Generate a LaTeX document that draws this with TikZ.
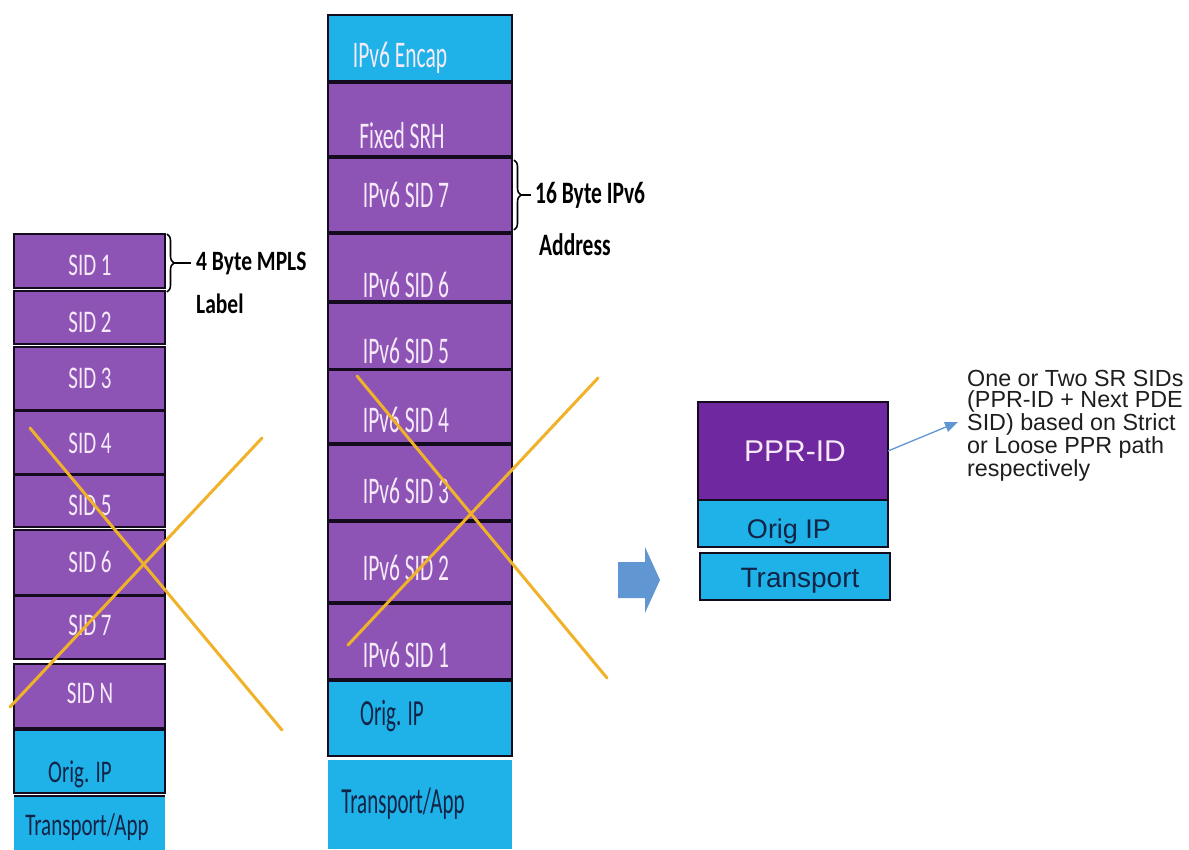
\documentclass[tikz,border=0pt]{standalone}
\usepackage{fontspec}
\setmainfont{Carlito}
\newfontfamily\arialf{Liberation Sans}
\usepackage{graphicx}
\usetikzlibrary{decorations.pathreplacing,arrows.meta}

\definecolor{stackpurple}{RGB}{141,84,182}
\definecolor{pprpurple}{RGB}{112,40,160}
\definecolor{cyanblue}{RGB}{30,178,232}
\definecolor{edgec}{RGB}{20,12,30}
\definecolor{lav}{RGB}{246,234,248}
\definecolor{navy}{RGB}{18,36,70}
\definecolor{xorange}{RGB}{240,178,40}
\definecolor{arrowblue}{RGB}{96,150,210}
\definecolor{notec}{RGB}{30,30,30}

\newcommand{\lstk}[1]{\scalebox{1}[1.5]{#1}}
\newcommand{\mstk}[1]{\scalebox{1}[1.75]{#1}}
\newcommand{\brtx}[1]{\scalebox{1}[1.3]{#1}}
\newcommand{\stackbox}[6]{\node[#1, minimum width={#5-#3}, minimum height={#6-#4}] (#2) at ({(#3+#5)/2},{(#4+#6)/2}) {};}

\begin{document}
\begin{tikzpicture}[x=1pt,y=-1pt,
  pbox/.style={draw=edgec, line width=2.2pt, fill=stackpurple, inner sep=0pt, outer sep=0pt},
  bbox/.style={draw=edgec, line width=2.2pt, fill=cyanblue, inner sep=0pt, outer sep=0pt},
  nbox/.style={draw=none, fill=cyanblue, inner sep=0pt, outer sep=0pt},
  ppbox/.style={draw=edgec, line width=2pt, fill=pprpurple, inner sep=0pt, outer sep=0pt},
  ltxt/.style={anchor=base, inner sep=0pt, text=lav, font=\fontsize{21}{24}\selectfont},
  lbtxt/.style={anchor=base, inner sep=0pt, text=navy, font=\fontsize{21}{24}\selectfont},
  mtxt/.style={anchor=base, inner sep=0pt, text=lav, font=\fontsize{21.5}{24}\selectfont},
  mbtxt/.style={anchor=base, inner sep=0pt, text=navy, font=\fontsize{21}{24}\selectfont},
  brlab/.style={anchor=base west, inner sep=0pt, text=black, font=\bfseries\fontsize{21.5}{24}\selectfont},
  brc/.style={decorate, decoration={brace, amplitude=7pt}, line width=1.6pt, black},
  xline/.style={xorange, line width=3pt, line cap=round},
  rtxt/.style={anchor=base, inner sep=0pt, font=\arialf\fontsize{28}{32}\selectfont}
]
\useasboundingbox (0,0) rectangle (1189,849);
\fill[white] (0,0) rectangle (1189,849);

% ---------- left stack ----------
\stackbox{pbox}{l1}{14}{234}{165}{288}
\stackbox{pbox}{l2}{14}{291}{165}{344}
\stackbox{pbox}{l3}{14}{347}{165}{410}
\stackbox{pbox}{l4}{14}{411}{165}{474}
\stackbox{pbox}{l5}{14}{475}{165}{527}
\stackbox{pbox}{l6}{14}{530}{165}{595}
\stackbox{pbox}{l7}{14}{596}{165}{659}
\stackbox{pbox}{lN}{14}{664}{165}{728}
\stackbox{bbox}{lo}{14}{730}{165}{793}
\stackbox{nbox}{lt}{14}{796}{165}{852}
\draw[edgec, line width=2.2pt] (lt.north west) -- (lt.north east);

\node[ltxt] (t1) at (90,275) {\lstk{SID 1}};
\node[ltxt] (t2) at (90,332) {\lstk{SID 2}};
\node[ltxt] (t3) at (90,388) {\lstk{SID 3}};
\node[ltxt] (t4) at (90,453) {\lstk{SID 4}};
\node[ltxt] (t5) at (90,515) {\lstk{SID 5}};
\node[ltxt] (t6) at (90,572) {\lstk{SID 6}};
\node[ltxt] (t7) at (90,635) {\lstk{SID 7}};
\node[ltxt] (tN) at (90,703) {\lstk{SID N}};
\node[lbtxt] (to) at (80,782) {\lstk{Orig. IP}};
\node[lbtxt] (tt) at (87,835) {\lstk{Transport/App}};

% brace for left stack
\draw[brc] ([xshift=2pt]l1.north east) -- ([xshift=2pt, yshift=-4pt]l1.south east) coordinate[midway, xshift=7pt] (lbtip);
\node[brlab] (lab1) at (196,270) {\brtx{4 Byte MPLS}};
\node[brlab] (lab2) at (196,313) {\brtx{Label}};
\draw[black, line width=1.6pt] (lbtip) -- ([xshift=-5pt]lab1.west |- lbtip) ;

% ---------- middle stack ----------
\stackbox{bbox}{m0}{328}{15}{512}{81}
\stackbox{pbox}{mS}{328}{83}{512}{156}
\stackbox{pbox}{m7}{328}{158}{512}{232}
\stackbox{pbox}{m6}{328}{234}{512}{301}
\stackbox{pbox}{m5}{328}{303}{512}{369}
\stackbox{pbox}{m4}{328}{370}{512}{443}
\stackbox{pbox}{m3}{328}{445}{512}{520}
\stackbox{pbox}{m2}{328}{522}{512}{602}
\stackbox{pbox}{m1}{328}{604}{512}{679}
\stackbox{bbox}{mo}{328}{681}{512}{756}
\stackbox{nbox}{mt}{328}{760}{512}{849}

\node[mtxt] (u0) at (400,67) {\mstk{IPv6 Encap}};
\node[mtxt] (uS) at (402,148) {\mstk{Fixed SRH}};
\node[mtxt] (u7) at (406,207) {\mstk{IPv6 SID 7}};
\node[mtxt] (u6) at (406,297) {\mstk{IPv6 SID 6}};
\node[mtxt] (u5) at (406,363) {\mstk{IPv6 SID 5}};
\node[mtxt] (u4) at (406,432) {\mstk{IPv6 SID 4}};
\node[mtxt] (u3) at (406,503) {\mstk{IPv6 SID 3}};
\node[mtxt] (u2) at (406,580) {\mstk{IPv6 SID 2}};
\node[mtxt] (u1) at (406,667) {\mstk{IPv6 SID 1}};
\node[mbtxt] (uo) at (392,725) {\mstk{Orig. IP}};
\node[mbtxt] (ut) at (403,813) {\mstk{Transport/App}};

% brace for middle stack
\draw[brc] ([xshift=2pt, yshift=-2pt]m7.north east) -- ([xshift=2pt, yshift=2pt]m7.south east) coordinate[midway, xshift=7pt] (mbtip);
\node[brlab] (lab3) at (535,203) {\scalebox{1}[1.45]{16 Byte IPv6}};
\node[brlab] (lab4) at (539,255) {\scalebox{1}[1.45]{Address}};
\draw[black, line width=1.6pt] (mbtip) -- ([xshift=-4pt]lab3.west |- mbtip);

% ---------- orange crosses ----------
\draw[xline] (30,428) -- (282,730);
\draw[xline] (262,438) -- (10,707);
\draw[xline] (357,376) -- (607,678);
\draw[xline] (598,378) -- (348,645);

% ---------- fat arrow ----------
\fill[arrowblue] (618,562) -- (645,562) -- (645,547) -- (660,580) -- (645,613) -- (645,598) -- (618,598) -- cycle;

% ---------- right stack ----------
\stackbox{ppbox}{pp}{698}{402}{888}{500}
\stackbox{bbox}{po}{698}{500}{888}{547}
\stackbox{bbox}{pt}{700}{553}{890}{600}
\node[rtxt, text=lav, anchor=center, font=\arialf\fontsize{30}{34}\selectfont] (ppt) at (795,451) {PPR-ID};
\node[rtxt, text=navy, font=\arialf\fontsize{27}{32}\selectfont] (pot) at (789,538) {Orig IP};
\node[rtxt, text=navy] (ptt) at (800,587) {Transport};

% ---------- note ----------
\node[anchor=north west, inner sep=0pt, align=left, text=notec,
      font=\arialf\fontsize{23.3}{21.4}\selectfont] (note) at (967,370)
  {One or Two SR SIDs\\(PPR-ID + Next PDE\\SID) based on Strict\\or Loose PPR path\\respectively};
\coordinate (notetip) at (958,422);
\draw[arrowblue, line width=1.3pt, -{Triangle[length=13pt,width=10pt]}] (pp.east) -- (notetip);
\end{tikzpicture}
\end{document}
